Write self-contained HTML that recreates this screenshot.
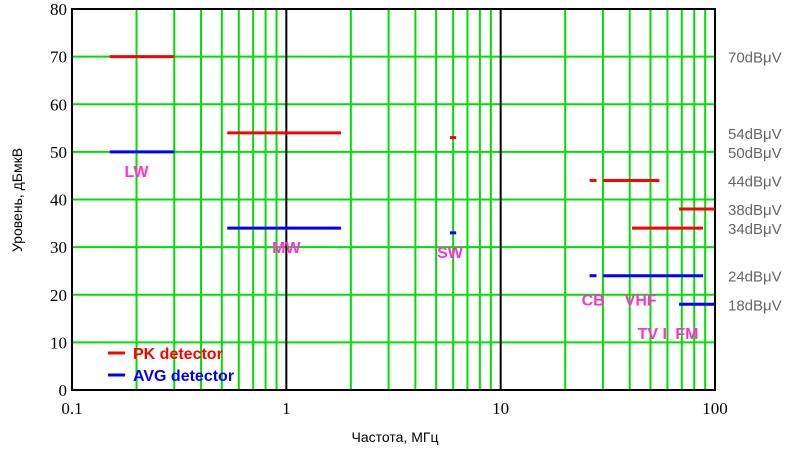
<!DOCTYPE html>
<html><head><meta charset="utf-8"><style>
body{margin:0;background:#fff;width:800px;height:451px;overflow:hidden}
</style></head><body>
<svg id="c" width="800" height="451"></svg>
<script>
const freqTicks=[0.1,1,10,100];
const freqLabels=["0.1","1","10","100"];
const levelTicks=[0,10,20,30,40,50,60,70,80];
const pkStart=[0.15,0.53,5.8,26,30,41,68];
const pkEnd=[0.3,1.8,6.2,28,55,88,100];
const pkLevel=[70,54,53,44,44,34,38];
const avgStart=[0.15,0.53,5.8,26,30,68];
const avgEnd=[0.3,1.8,6.2,28,88,100];
const avgLevel=[50,34,33,24,24,18];
const refLevels=[70,54,50,44,38,34,24,18];
const bandNames=["LW","MW","SW","CB","VHF","TV I","FM"];
const bandX=[0.2,1,5.8,27,45,51,74];
const bandY=[46,30,29,19,19,12,12];

const L=72,R=715,T=9,B=390;
const SANS='"Liberation Sans",sans-serif', SERIF='"Liberation Serif",serif';
const xs=f=>L+(Math.log10(f)+1)/3*(R-L);
const ys=v=>B-v/80*(B-T);
const svg=document.getElementById('c');const NS="http://www.w3.org/2000/svg";
function add(tag,a,name,txt){const e=document.createElementNS(NS,tag);for(const k in a)e.setAttribute(k,a[k]);


if(txt!==undefined)e.textContent=txt;svg.appendChild(e);return e;}
for(let d=0;d<3;d++){const base=freqTicks[d];for(let m=2;m<=9;m++){const x=xs(base*m);add('line',{x1:x,x2:x,y1:T,y2:B,stroke:'#00e000','stroke-width':2},'x-minor-gridline');}}
levelTicks.forEach(v=>{add('line',{x1:L,x2:R,y1:ys(v),y2:ys(v),stroke:'#00e000','stroke-width':2},'y-gridline');
add('text',{x:L-5,y:ys(v)+6,'text-anchor':'end','font-size':17,style:'font-family:'+SERIF,fill:'#000'},'y-tick-label',String(v));});
[1,10].forEach(f=>add('line',{x1:xs(f),x2:xs(f),y1:T,y2:B,stroke:'#000','stroke-width':2},'x-major-gridline'));
add('rect',{x:L,y:T,width:R-L,height:B-T,fill:'none',stroke:'#000','stroke-width':2},'plot-frame');
freqTicks.forEach((f,i)=>add('text',{x:xs(f),y:414,'text-anchor':'middle','font-size':17,style:'font-family:'+SERIF},'x-tick-label',freqLabels[i]));
pkLevel.forEach((v,i)=>add('line',{x1:xs(pkStart[i]),x2:xs(pkEnd[i]),y1:ys(v),y2:ys(v),stroke:'#f00','stroke-width':3},'pk-limit-segment'));
avgLevel.forEach((v,i)=>add('line',{x1:xs(avgStart[i]),x2:xs(avgEnd[i]),y1:ys(v),y2:ys(v),stroke:'#00f','stroke-width':3},'avg-limit-segment'));
bandNames.forEach((n,i)=>add('text',{x:xs(bandX[i]),y:ys(bandY[i])+6,'text-anchor':'middle','font-size':16,'font-weight':'bold',style:'font-family:'+SANS,fill:'#ff33cc'},'band-label',n));
refLevels.forEach(v=>add('text',{x:728,y:ys(v)+6,'font-size':15,style:'font-family:'+SANS,fill:'#666'},'reference-level-label',v+'dBμV'));
add('line',{x1:108,x2:125,y1:353,y2:353,stroke:'#f00','stroke-width':3},'legend-pk-swatch');
add('text',{x:133,y:359,'font-size':16,'font-weight':'bold',style:'font-family:'+SANS,fill:'#f00'},'legend-pk-label','PK detector');
add('line',{x1:108,x2:125,y1:375,y2:375,stroke:'#00f','stroke-width':3},'legend-avg-swatch');
add('text',{x:133,y:381,'font-size':16,'font-weight':'bold',style:'font-family:'+SANS,fill:'#00f'},'legend-avg-label','AVG detector');
add('text',{x:395,y:442,'text-anchor':'middle','font-size':14,style:'font-family:'+SANS},'x-axis-title','Частота, МГц');
add('text',{x:22,y:200,'text-anchor':'middle','font-size':14,style:'font-family:'+SANS,transform:'rotate(-90 22 200)'},'y-axis-title','Уровень, дБмкВ');
</script></body></html>
